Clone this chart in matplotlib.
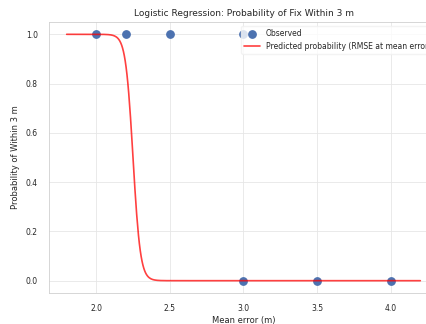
import numpy as np
import matplotlib
matplotlib.use("Agg")
import matplotlib.pyplot as plt
import seaborn as sns

sns.set_theme(style="whitegrid")
plt.rcParams['font.family'] = ['DejaVu Sans']

# Observed data
mean_error = [2.0, 2.2, 2.5, 3.0, 3.0, 3.5, 4.0]
within_3m = [1, 1, 1, 1, 0, 0, 0]

# Fitted logistic model coefficients (logit = b0 + b1 * x)
b0 = 90.0
b1 = -40.0

curve_min = 1.8
curve_max = 4.2

xs = np.linspace(curve_min, curve_max, 400)
ps = 1.0 / (1.0 + np.exp(-(b0 + b1 * xs)))

fig = plt.figure(figsize=(4.26, 3.24), dpi=100)
ax = fig.add_axes([49/426, (324-293)/324, (438-49)/426, (293-22)/324])

ax.scatter(mean_error, within_3m, s=28, color="#4c72b0", label="Observed", zorder=3)
ax.plot(xs, ps, color="red", lw=1.2, alpha=0.75,
        label="Predicted probability (RMSE at mean error)", zorder=4)

ax.set_title("Logistic Regression: Probability of Fix Within 3 m", fontsize=6.5, pad=4)
ax.set_xlabel("Mean error (m)", fontsize=6, labelpad=2)
ax.set_ylabel("Probability of Within 3 m", fontsize=6, labelpad=4)
ax.tick_params(labelsize=5.5, pad=2)
ax.set_xticks([2.0, 2.5, 3.0, 3.5, 4.0])
ax.set_yticks([0.0, 0.2, 0.4, 0.6, 0.8, 1.0])
ax.set_xlim(1.68, 4.32)
ax.set_ylim(-0.05, 1.05)
ax.grid(True, color="#e6e6e6", linewidth=0.6)
for s in ax.spines.values():
    s.set_linewidth(0.6)
    s.set_color("#d0d0d0")
ax.legend(loc="upper right", fontsize=5.5, frameon=True, edgecolor="#f0f0f0")

fig.savefig("out.png", dpi=100)
